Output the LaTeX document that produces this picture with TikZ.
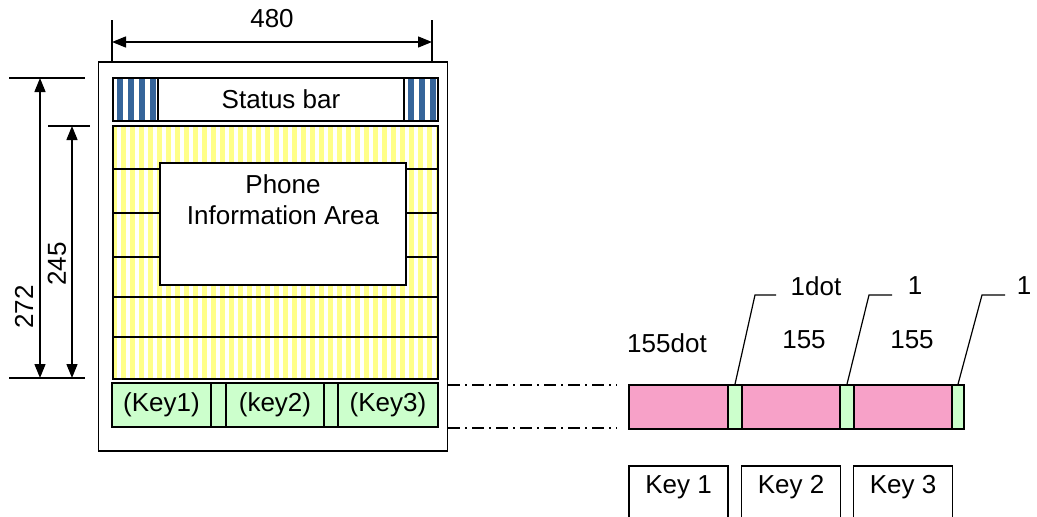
\documentclass[tikz,border=0pt]{standalone}
\usepackage{fontspec}
\setmainfont{Liberation Sans}
\usetikzlibrary{arrows.meta}

\definecolor{sblue}{HTML}{35649A}
\definecolor{pyellow}{HTML}{FFFF88}
\definecolor{kgreen}{HTML}{CCFFCC}
\definecolor{kpink}{HTML}{F7A1C8}

\begin{document}
\begin{tikzpicture}[x=1pt, y=-1pt,
		font=\fontsize{26}{31}\selectfont,
		box/.style={rectangle, draw, line width=1.6pt, inner sep=0pt},
		seg/.style={box, minimum height=44pt},
		kbox/.style={rectangle, draw, line width=1.2pt, minimum width=99pt, minimum height=54pt, text height=9pt, text depth=9pt},
		dim/.style={{Triangle[length=14pt, width=11pt]}-{Triangle[length=14pt, width=11pt]}, line width=1.4pt},
		ext/.style={line width=1.2pt},
		dd/.style={line width=1.2pt, dash pattern=on 12pt off 5pt on 2pt off 5pt},
		lead/.style={line width=1.2pt},
		]
		\useasboundingbox (0,0) rectangle (1037,517);

		%Phone frame
		\node[box, line width=1.2pt, minimum width=349pt, minimum height=389pt]	(phone)	at	(273,256.5)	{};

		%Status bar
		\fill[white]	(113,78)	rectangle	(438,121);
		\foreach \x in {117,128,139,150, 408,419,430}
			\fill[sblue]	(\x,78)	rectangle	+(6,43);
		\draw[line width=1.6pt]	(113,78)	rectangle	(438,121);
		\node[box, fill=white, minimum width=246pt, minimum height=43pt]	(sbar)	at	(281,99.5)	{Status bar};

		%Information area
		\fill[pyellow]	(113,126)	rectangle	(438,379);
		\foreach \x in {117,126,...,436}
			\fill[white]	(\x,126)	rectangle	+(4,253);
		\draw[line width=1.6pt]	(113,126)	rectangle	(438,379);
		\foreach \y in {169,213,257}
			\draw[line width=1.2pt]	(113,\y)	--	(438,\y);
		\foreach \y in {297,337}
			\draw[line width=1.2pt]	(113,\y)	--	(438,\y);
		\node[box, fill=white, minimum width=246pt, minimum height=122pt]	(info)	at	(283,224)	{};
		\node[anchor=north, align=center, inner sep=0pt]	(infotxt)	at	([yshift=-12pt]info.north)	{Phone\\Information Area};

		%Soft keys
		\node[box, fill=kgreen, minimum width=326pt, minimum height=44pt]	(keyrow)	at	(275,405)	{};
		\node[seg, fill=kgreen, minimum width=99pt]	(k1)	at	(161.5,405)	{(Key1)};
		\node[seg, fill=kgreen, minimum width=98pt]	(k2)	at	(275,405)	{(key2)};
		\node[seg, fill=kgreen, minimum width=100pt]	(k3)	at	(388,405)	{(Key3)};

		%Dimensions
		\coordinate	(w1)	at	(112,20);
		\coordinate	(w2)	at	(432,20);
		\draw[ext]	(w1)	--	(w1 |- phone.north);
		\draw[ext]	(w2)	--	(w2 |- phone.north);
		\draw[dim]	(112,42)	--	(432,42);
		\node	(wlab)	at	(272,19)	{480};

		\coordinate	(h1)	at	(9,78);
		\coordinate	(h2)	at	(9,378);
		\coordinate	(h3)	at	(48,126);
		\draw[ext]	(h1)	--	(85,78);
		\draw[ext]	(h2)	--	(85,378);
		\draw[ext]	(h3)	--	(90,126);
		\draw[dim]	(40,78)		--	(40,378);
		\draw[dim]	(72,126)	--	(72,378);
		\node[rotate=90]	(hlab1)	at	(24,307)	{272};
		\node[rotate=90]	(hlab2)	at	(57,264)	{245};

		%Key bar
		\node[seg, fill=kpink, minimum width=99pt]	(p1)	at	(678.5,407)	{};
		\node[seg, fill=kgreen, minimum width=14pt]	(g1)	at	(735,407)	{};
		\node[seg, fill=kpink, minimum width=98pt]	(p2)	at	(791,407)	{};
		\node[seg, fill=kgreen, minimum width=14pt]	(g2)	at	(847,407)	{};
		\node[seg, fill=kpink, minimum width=98pt]	(p3)	at	(903,407)	{};
		\node[seg, fill=kgreen, minimum width=12pt]	(g3)	at	(958,407)	{};

		\coordinate	(d1)	at	(617,385);
		\coordinate	(d2)	at	(617,428);
		\draw[dd]	(phone.east |- d1)	--	(d1);
		\draw[dd]	(phone.east |- d2)	--	(d2);

		%Leaders
		\draw[lead]	(g1.north)	--	(755,295)	--	(776,295);
		\draw[lead]	(g2.north)	--	(869,295)	--	(892,295);
		\draw[lead]	(g3.north)	--	(982,295)	--	(1005,295);
		\node	(t1)	at	(816,286)	{1dot};
		\node	(t2)	at	(915,286)	{1};
		\node	(t3)	at	(1024,286)	{1};
		\node	(s1)	at	(667,343)	{155dot};
		\node	(s2)	at	(804,340)	{155};
		\node	(s3)	at	(912,340)	{155};

		%Keys
		\node[kbox]	(key1)	at	(678.5,493)	{Key 1};
		\node[kbox]	(key2)	at	(791,493)	{Key 2};
		\node[kbox]	(key3)	at	(903,493)	{Key 3};
	\end{tikzpicture}
\end{document}
